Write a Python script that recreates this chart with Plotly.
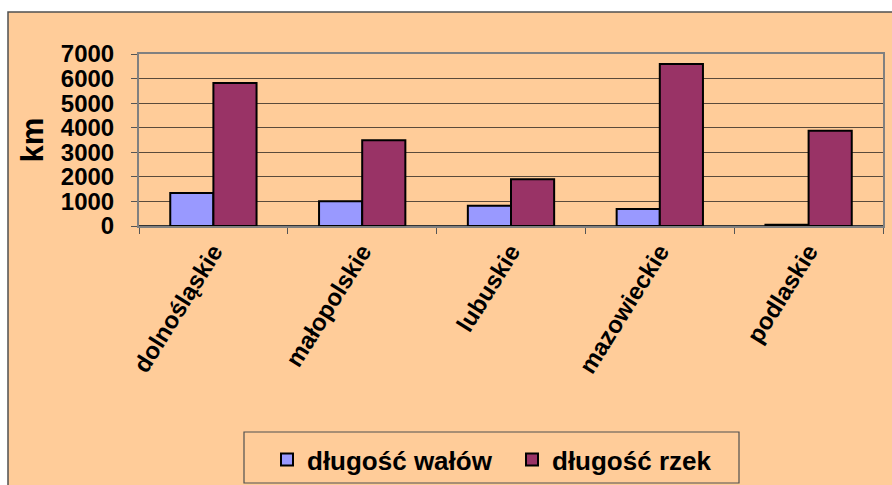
import plotly.graph_objects as go

categories = ["dolnośląskie", "małopolskie", "lubuskie", "mazowieckie", "podlaskie"]
walow = [1340, 1010, 820, 690, 50]
rzek = [5820, 3490, 1900, 6590, 3880]
series_names = ["długość wałów", "długość rzek"]
y_ticks = [0, 1000, 2000, 3000, 4000, 5000, 6000, 7000]

FONT = "Arial, 'Liberation Sans', sans-serif"
BG = "#FFCC99"

W, H = 892, 485
L, R, T, B = 139, 9, 54, 259
pw, ph = W - L - R, H - T - B

def px(x):
    return (x - L) / pw

def py(y):
    return (H - B - y) / ph

fig = go.Figure()
fig.add_trace(go.Bar(x=categories, y=walow, name=series_names[0],
                     marker=dict(color="#9999FF", line=dict(color="black", width=2))))
fig.add_trace(go.Bar(x=categories, y=rzek, name=series_names[1],
                     marker=dict(color="#993366", line=dict(color="black", width=2))))

# chart area background and border
fig.add_shape(type="rect", xref="paper", yref="paper",
              x0=px(8), x1=px(900), y0=py(495), y1=py(12),
              fillcolor=BG, line=dict(color="#505050", width=1.5), layer="below")
# legend box
fig.add_shape(type="rect", xref="paper", yref="paper",
              x0=px(244), x1=px(739), y0=py(483), y1=py(432),
              fillcolor="rgba(0,0,0,0)", line=dict(color="#505050", width=1.2))

fig.update_layout(
    width=W, height=H,
    margin=dict(l=L, r=R, t=T, b=B, autoexpand=False),
    paper_bgcolor="white",
    plot_bgcolor=BG,
    barmode="group",
    bargap=0.42,
    bargroupgap=0,
    font=dict(family=FONT, color="black"),
    showlegend=True,
    legend=dict(orientation="h", x=px(267), y=py(436), xanchor="left", yanchor="top",
                bgcolor="rgba(0,0,0,0)", borderwidth=0,
                font=dict(family=FONT, size=26, color="black", weight="bold"),
                itemwidth=30, traceorder="normal",
                entrywidth=200, entrywidthmode="pixels"),
)
fig.update_xaxes(
    type="category", tickson="boundaries", ticks="outside", ticklen=6,
    tickcolor="#555", tickangle=-58, automargin=False,
    tickfont=dict(family=FONT, size=24, color="black", weight="bold"),
    showline=True, linecolor="#808080", linewidth=2, mirror=True,
    showgrid=False,
)
fig.update_yaxes(
    range=[0, 7000], tickvals=y_ticks, ticktext=[str(v) for v in y_ticks],
    ticks="outside", ticklen=6, tickcolor="#555", automargin=False,
    tickfont=dict(family=FONT, size=24, color="black", weight="bold"),
    ticklabelstandoff=12,
    showgrid=True, gridcolor="#5a4a3a", gridwidth=1,
    showline=True, linecolor="#808080", linewidth=2, mirror=True,
    zeroline=True, zerolinecolor="#333", zerolinewidth=2,
    title=dict(text="km", font=dict(family=FONT, size=31, color="black", weight="bold"),
               standoff=8),
)

fig.write_html("out.html", config={"displayModeBar": False},
               post_script="document.body.style.margin='0';")
